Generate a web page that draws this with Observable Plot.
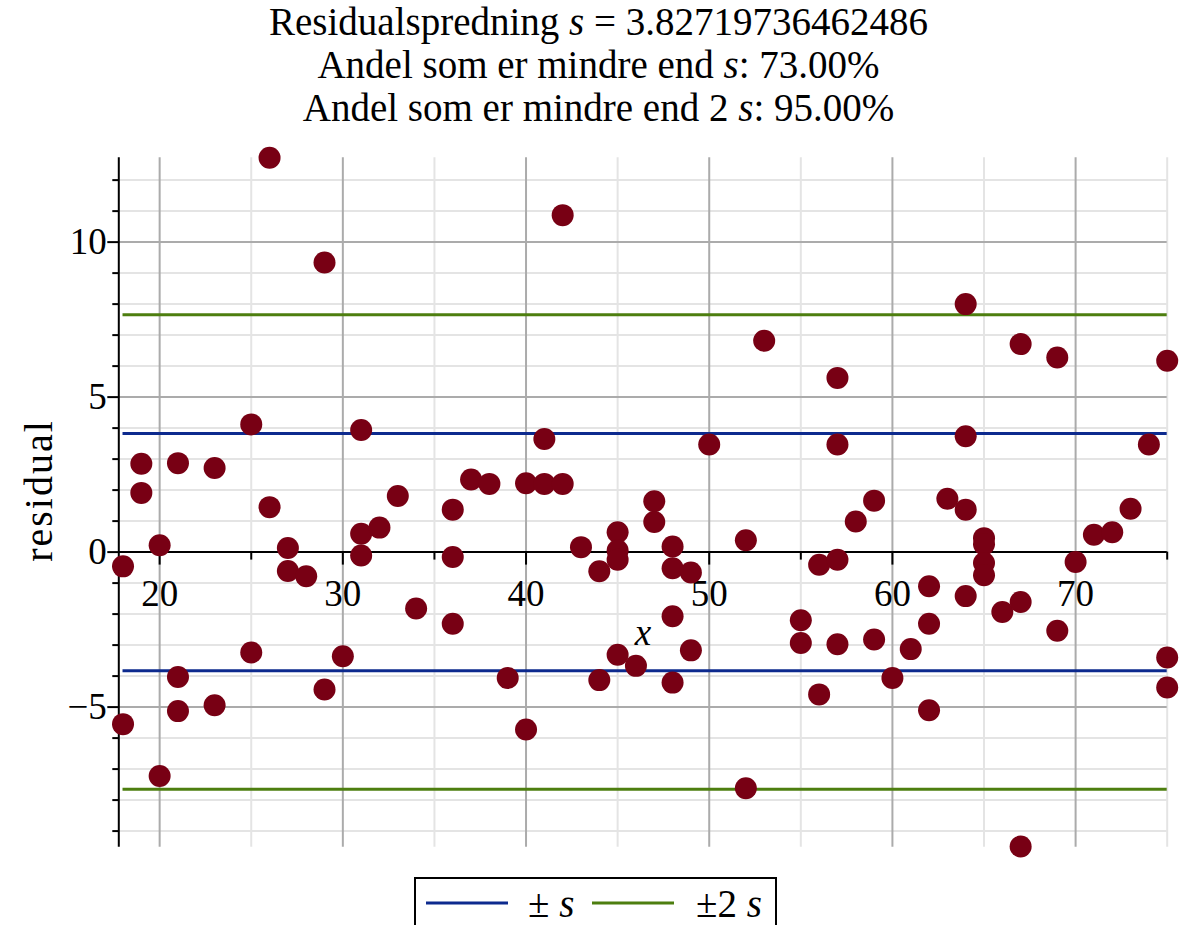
<!DOCTYPE html>
<html><head><meta charset="utf-8">
<script src="https://cdn.jsdelivr.net/npm/d3@7"></script>
<script src="https://cdn.jsdelivr.net/npm/@observablehq/plot@0.6"></script>
<style>
body{margin:0;background:#fff;font-family:"Liberation Serif","Times New Roman",serif;}
#wrap{position:relative;width:1189px;height:925px;overflow:hidden;background:#fff;}
#title{position:absolute;left:4px;top:0;width:1189px;text-align:center;font-size:39px;line-height:43px;color:#000;}
#chart{position:absolute;left:0;top:140px;}
#legend{position:absolute;left:414px;top:877px;width:359px;height:70px;border:2px solid #000;background:#fff;font-size:39px;}
#legend .item{position:absolute;top:2px;height:44px;display:flex;align-items:center;white-space:nowrap;}
</style></head><body>
<div id="wrap">
<div id="title"></div>
<div id="chart"></div>
<div id="legend"></div>
</div>
<script>
// ---- data ----
const xValues = [
  18, 18, 19, 19, 20, 20, 21, 21, 21, 23, 23, 25, 25, 26, 26, 27, 27, 28, 29, 29,
  30, 31, 31, 31, 32, 33, 34, 36, 36, 36, 37, 38, 39, 40, 40, 41, 41, 42, 42, 43,
  44, 44, 45, 45, 45, 45, 46, 47, 47, 48, 48, 48, 48, 49, 49, 50, 52, 52, 53, 55,
  55, 56, 56, 57, 57, 57, 57, 58, 59, 59, 60, 61, 62, 62, 62, 63, 64, 64, 64, 64,
  65, 65, 65, 65, 66, 67, 67, 67, 69, 69, 70, 71, 72, 73, 74, 75, 75, 75
];
const residuals = [
  -0.46, -5.55, 2.85, 1.91, 0.22, -7.22, 2.87, -4.03, -5.13, 2.71, -4.94, 4.12, -3.24, 12.72, 1.45, 0.13, -0.61, -0.78, 9.34, -4.43,
  -3.36, 3.94, 0.59, -0.11, 0.79, 1.81, -1.82, 1.37, -0.16, -2.31, 2.34, 2.20, -4.06, 2.22, -5.72, 3.65, 2.20, 10.87, 2.20, 0.16,
  -0.62, -4.13, 0.64, 0.05, -0.25, -3.31, -3.67, 1.64, 0.97, 0.18, -0.52, -2.07, -4.21, -0.66, -3.17, 3.47, 0.38, -7.62, 6.82, -2.20,
  -2.93, -0.41, -4.59, 5.62, 3.47, -0.25, -2.97, 0.99, 1.66, -2.82, -4.06, -3.13, -1.10, -2.31, -5.10, 1.72, 8.00, 3.74, 1.37, -1.42,
  0.45, 0.25, -0.35, -0.75, -1.93, 6.71, -1.61, -9.50, 6.28, -2.54, -0.32, 0.56, 0.64, 1.40, 3.47, 6.17, -3.40, -4.37
];
const sValue = 3.82719736462486;
const shareWithinS = 73.00;
const shareWithin2S = 95.00;
const bandMultipliers = [1, 2];
const bandLabels = ["<span>\u00b1\u00a0</span><i>s</i>", "<span>\u00b12\u00a0</span><i>s</i>"];
const bandColors = ["#0d2a8e", "#4d7e0f"];
const xMajorTicks = [20, 30, 40, 50, 60, 70];
const xMinorTicks = [25, 35, 45, 55, 65, 75];
const yMajorTicks = [-5, 0, 5, 10];
const yMinorTicks = [-9, -8, -7, -6, -4, -3, -2, -1, 1, 2, 3, 4, 6, 7, 8, 9, 11, 12];
const xDomain = [17.77, 75];
const yDomain = [-9.52, 12.72];
const lineStart = 18, lineEnd = 75;
const xLabel = "x", yLabel = "residual";

// ---- title ----
document.getElementById("title").innerHTML =
  `Residualspredning <i>s</i> = ${sValue}<br>` +
  `Andel som er mindre end <i>s</i>: ${shareWithinS.toFixed(2)}%<br>` +
  `Andel som er mindre end 2 <i>s</i>: ${shareWithin2S.toFixed(2)}%`;

// ---- chart ----
const points = xValues.map((x, i) => ({x, r: residuals[i]}));
const bands = [];
bandMultipliers.forEach((m, i) => {
  bands.push({y: m * sValue, c: bandColors[i]});
  bands.push({y: -m * sValue, c: bandColors[i]});
});

const W = 1189, H = 785, mt = 17.3, mb = 78.3, ml = 118.3, mr = 22.3;
const plotH = H - mt - mb;
const zeroOffset = -((0 - yDomain[0]) / (yDomain[1] - yDomain[0])) * plotH;
const fmt = d => d < 0 ? "\u2212" + Math.abs(d) : String(d);

const chart = Plot.plot({
  width: W, height: H,
  marginTop: mt, marginBottom: mb, marginLeft: ml, marginRight: mr,
  style: {fontFamily: "'Liberation Serif', 'Times New Roman', serif", background: "white", overflow: "visible", color: "black"},
  x: {domain: xDomain, axis: null},
  y: {domain: yDomain, axis: null},
  marks: [
    Plot.gridX(xMinorTicks, {stroke: "#e4e4e4", strokeOpacity: 1, strokeWidth: 2}),
    Plot.gridY(yMinorTicks, {stroke: "#e4e4e4", strokeOpacity: 1, strokeWidth: 2}),
    Plot.gridX(xMajorTicks, {stroke: "#ababab", strokeOpacity: 1, strokeWidth: 2}),
    Plot.gridY(yMajorTicks, {stroke: "#ababab", strokeOpacity: 1, strokeWidth: 2}),
    Plot.ruleY(bands, {y: "y", x1: () => lineStart, x2: () => lineEnd, stroke: "c", strokeWidth: 3}),
    Plot.ruleY([0], {stroke: "black", strokeWidth: 2}),
    Plot.ruleX([xDomain[0]], {stroke: "black", strokeWidth: 2}),
    Plot.axisY(yMinorTicks, {anchor: "left", tickSize: 6, strokeWidth: 2, tickFormat: () => "", label: null}),
    Plot.axisY(yMajorTicks, {anchor: "left", tickSize: 11, tickPadding: 1, strokeWidth: 2, tickFormat: fmt, fontSize: 37, fill: "black", label: null}),
    Plot.axisX(xMinorTicks, {anchor: "bottom", dy: zeroOffset, tickSize: 8, strokeWidth: 2, tickFormat: () => "", label: null}),
    Plot.axisX(xMajorTicks, {anchor: "bottom", dy: zeroOffset, tickSize: 13, tickPadding: 15, strokeWidth: 2, tickFormat: fmt, fontSize: 37, fill: "black", label: null}),
    Plot.text([xLabel], {x: () => (xDomain[0] + xDomain[1]) / 2, y: () => 0, dy: 81, text: d => d, fontSize: 37, fontStyle: "italic", fill: "black"}),
    Plot.text([yLabel], {frameAnchor: "left", textAnchor: "middle", rotate: -90, dx: -80, dy: -12, text: d => d, fontSize: 40, fill: "black"}),
    Plot.dot(points, {x: "x", y: "r", r: 11, fill: "#780014", stroke: "none"})
  ]
});
d3.select(chart).selectAll("text").filter(function() { return this.textContent === yLabel; })
  .style("letter-spacing", "2px");
document.getElementById("chart").appendChild(chart);

// ---- legend ----
const legend = document.getElementById("legend");
const itemPos = [[9, 112], [175, 280]];
bandLabels.forEach((lab, i) => {
  const sw = document.createElement("div");
  sw.className = "item";
  sw.style.left = itemPos[i][0] + "px";
  sw.innerHTML = `<svg width="84" height="10"><line x1="1" x2="83" y1="5" y2="5" stroke="${bandColors[i]}" stroke-width="3"/></svg>`;
  legend.appendChild(sw);
  const tx = document.createElement("div");
  tx.className = "item";
  tx.style.left = itemPos[i][1] + "px";
  tx.innerHTML = lab;
  legend.appendChild(tx);
});
</script>
</body></html>
